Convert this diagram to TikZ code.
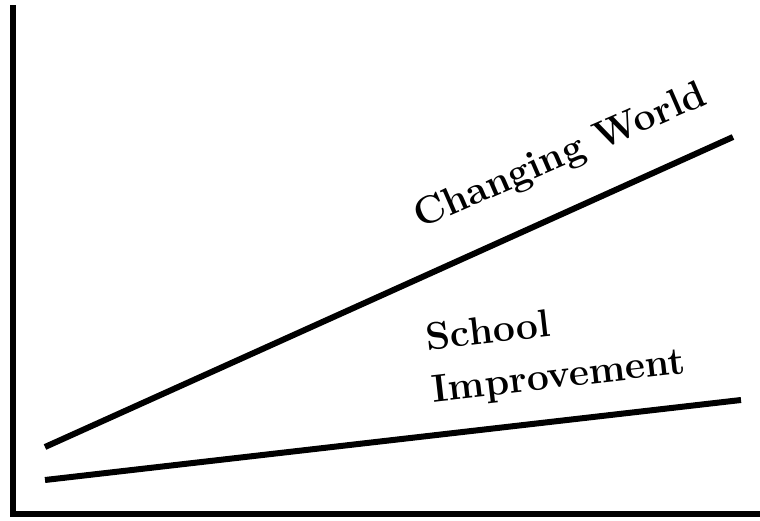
\documentclass[tikz,border=0pt]{standalone}
\begin{document}
\begin{tikzpicture}[x=1pt,y=-1pt,
  axis/.style={line width=6pt,line cap=rect},
  trend/.style={line width=6pt},
  lbl/.style={font=\fontsize{39}{52}\selectfont\bfseries,inner sep=0pt}]
\useasboundingbox (0,0) rectangle (760,521);
\coordinate (top) at (13,8);
\coordinate (origin) at (13,514);
\coordinate (right) at (762,514);
\draw[axis] (top) -- (origin) -- (right);
\coordinate (cw1) at (45,447);
\coordinate (cw2) at (733,137);
\coordinate (si1) at (45,480);
\coordinate (si2) at (741,400);
\draw[trend] (cw1) -- (cw2);
\draw[trend] (si1) -- (si2);
\node[lbl,rotate=23.5,anchor=base west] (cwl) at (420,229) {Changing World};
\node[lbl,rotate=6.5,anchor=center,align=left] (sil) at (556,352) {School\\Improvement};
\end{tikzpicture}
\end{document}
